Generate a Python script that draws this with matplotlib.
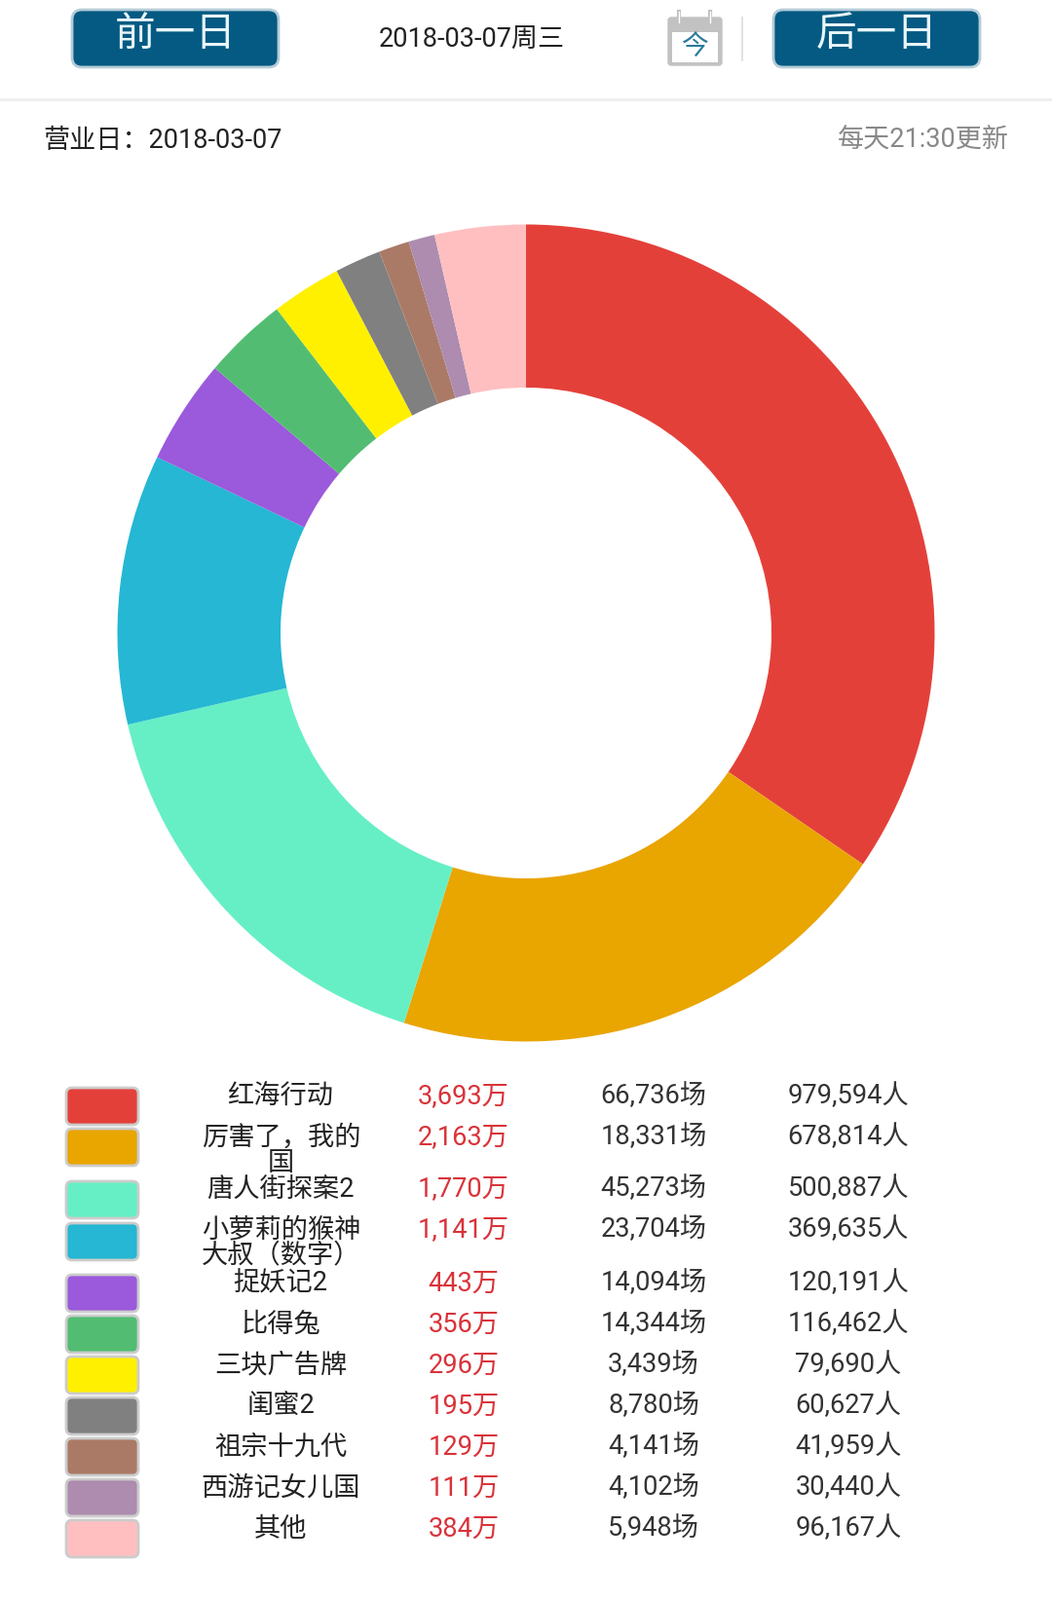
import matplotlib
matplotlib.use('Agg')
import matplotlib.pyplot as plt
from matplotlib.patches import FancyBboxPatch, Rectangle

plt.rcParams['font.family'] = ['Roboto', 'Noto Sans CJK SC', 'DejaVu Sans']

W, H = 1080, 1643

names = ['红海行动', '厉害了，我的\n国', '唐人街探案2', '小萝莉的猴神\n大叔（数字）', '捉妖记2',
         '比得兔', '三块广告牌', '闺蜜2', '祖宗十九代', '西游记女儿国', '其他']
box_office = [3693, 2163, 1770, 1141, 443, 356, 296, 195, 129, 111, 384]
shows = [66736, 18331, 45273, 23704, 14094, 14344, 3439, 8780, 4141, 4102, 5948]
people = [979594, 678814, 500887, 369635, 120191, 116462, 79690, 60627, 41959, 30440, 96167]
colors = ['#e4403a', '#e9a500', '#66efc5', '#25b7d3', '#9b59dc', '#52bd72',
          '#fff000', '#808080', '#ab7a66', '#ad8caf', '#ffbfc0']

row_y = [1126, 1168, 1221, 1263, 1318, 1360, 1402, 1444, 1486, 1528, 1570]
swatch_y = [1136, 1178, 1232, 1275, 1328, 1370, 1412, 1454, 1496, 1538, 1580]

fig = plt.figure(figsize=(W / 100, H / 100), dpi=100)
ax = fig.add_axes([0, 0, 1, 1])
ax.set_xlim(0, W)
ax.set_ylim(H, 0)
ax.axis('off')


def button(x0, x1, y0, y1, label):
    ax.add_patch(FancyBboxPatch((x0, y0), x1 - x0, y1 - y0, boxstyle='round,pad=0,rounding_size=10',
                                fc='#045a82', ec='#b5ccd8', lw=2))
    ax.text((x0 + x1) / 2, (y0 + y1) / 2 - 4, label, color='#e8f6fa', fontsize=30, ha='center', va='center')


# top bar
button(74, 286, 10, 69, '前一日')
button(794, 1006, 10, 69, '后一日')
ax.text(484, 41, '2018-03-07周三', fontsize=19.5, color='#222222', ha='center', va='center')
ax.plot([0, W], [102, 102], color='#eeeeee', lw=2)
ax.plot([762, 762], [18, 62], color='#dddddd', lw=1.2)

# calendar icon
ax.add_patch(FancyBboxPatch((686, 18), 55, 49, boxstyle='round,pad=0,rounding_size=3',
                            fc='#c2c2c2', ec='#c2c2c2', lw=1))
ax.add_patch(Rectangle((690, 33), 47, 31, fc='white', ec='none'))
ax.plot([697, 697], [12, 25], color='#c2c2c2', lw=3)
ax.plot([729, 729], [12, 25], color='#c2c2c2', lw=3)
ax.plot([697, 697], [12, 23], color='white', lw=1)
ax.plot([729, 729], [12, 23], color='white', lw=1)
ax.text(713, 49, '今', fontsize=20, color='#2b7a9b', ha='center', va='center')

ax.text(44, 145, '营业日：2018-03-07', fontsize=19.5, color='#222222', ha='left', va='center')
ax.text(1036, 144, '每天21:30更新', fontsize=19.5, color='#888888', ha='right', va='center')

# donut, sized in pixels
cx, cy, r_out, r_in = 540, 650, 419.5, 252
pie_ax = fig.add_axes([(cx - r_out) / W, 1 - (cy + r_out) / H, 2 * r_out / W, 2 * r_out / H])
pie_ax.pie(box_office, colors=colors, startangle=90, counterclock=False, radius=1,
           wedgeprops=dict(width=1 - r_in / r_out, edgecolor='none'))
pie_ax.set_xlim(-1, 1)
pie_ax.set_ylim(-1, 1)

# table under the chart
for i in range(len(names)):
    ax.add_patch(FancyBboxPatch((68, swatch_y[i] - 19), 74, 38, boxstyle='round,pad=0,rounding_size=6',
                                fc=colors[i], ec='#cccccc', lw=2))
    lines = names[i].split('\n')
    for j, line in enumerate(lines):
        ha, x = ('left', 207) if len(lines) > 1 and len(line) > 1 else ('center', 288)
        ax.text(x, row_y[i] + j * 26, line, fontsize=19.6, color='#222222', ha=ha, va='center')
    ax.text(476, row_y[i], f'{box_office[i]:,}万', fontsize=19.6, color='#d9333a', ha='center', va='center')
    ax.text(671, row_y[i], f'{shows[i]:,}场', fontsize=19.6, color='#333333', ha='center', va='center')
    ax.text(871, row_y[i], f'{people[i]:,}人', fontsize=19.6, color='#333333', ha='center', va='center')

fig.savefig('out.png', dpi=100, facecolor='white')
